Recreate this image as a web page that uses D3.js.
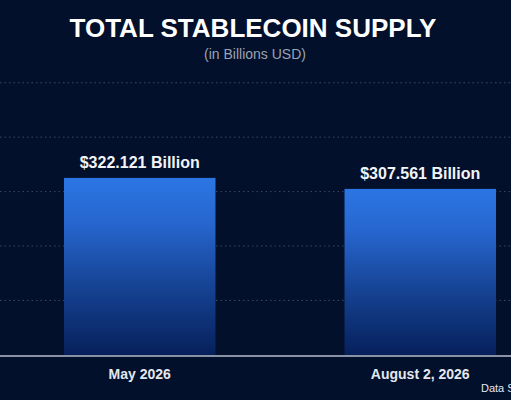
<!DOCTYPE html>
<html><head><meta charset="utf-8">
<script src="https://cdn.jsdelivr.net/npm/d3@7"></script>
<style>body{margin:0;background:#02102b;overflow:hidden}</style>
</head><body><svg id="c"></svg>
<script>
const categories = ['May 2026', 'August 2, 2026'];
const supply = [322.121, 307.561];
const gridValues = [160, 232, 304, 376, 448];

const W = 511, H = 400;
const svg = d3.select('#c').attr('width', W).attr('height', H);
svg.append('rect').attr('width', W).attr('height', H).attr('fill', '#02102b');

const defs = svg.append('defs');
const g = defs.append('linearGradient').attr('id', 'bar').attr('x1', 0).attr('y1', 0).attr('x2', 0).attr('y2', 1);
g.append('stop').attr('offset', '0%').attr('stop-color', '#2b76e3');
g.append('stop').attr('offset', '25%').attr('stop-color', '#2766cf');
g.append('stop').attr('offset', '60%').attr('stop-color', '#164495');
g.append('stop').attr('offset', '100%').attr('stop-color', '#061f5a');

const x = d3.scaleBand().domain(categories).range([64, 496]).paddingInner(0.46).paddingOuter(0);
const y = d3.scaleLinear().domain([86.5, 449]).range([356, 82]);

svg.selectAll('.grid').data(gridValues).enter().append('line')
  .attr('x1', 0).attr('x2', W).attr('y1', d => y(d)).attr('y2', d => y(d))
  .attr('stroke', '#3a4a66').attr('stroke-dasharray', '1.5,3').attr('stroke-width', 1);

svg.selectAll('.bar').data(supply).enter().append('rect')
  .attr('x', (d, i) => x(categories[i])).attr('width', x.bandwidth())
  .attr('y', d => y(d)).attr('height', d => y.range()[0] - y(d))
  .attr('fill', 'url(#bar)');

svg.append('line').attr('x1', 0).attr('x2', W).attr('y1', 356).attr('y2', 356)
  .attr('stroke', '#8a93a6').attr('stroke-width', 2);

svg.selectAll('.val').data(supply).enter().append('text')
  .attr('x', (d, i) => x(categories[i]) + x.bandwidth() / 2).attr('y', d => y(d) - 10)
  .attr('text-anchor', 'middle').attr('fill', '#f2f4f8')
  .style('font', 'bold 16px "Liberation Sans", Arial, sans-serif')
  .text(d => '$' + d3.format('.3f')(d) + ' Billion');

svg.selectAll('.cat').data(categories).enter().append('text')
  .attr('x', d => x(d) + x.bandwidth() / 2).attr('y', 379)
  .attr('text-anchor', 'middle').attr('fill', '#e4e7ee')
  .style('font', 'bold 14px "Liberation Sans", Arial, sans-serif')
  .text(d => d);

svg.append('text').attr('x', 253).attr('y', 37).attr('text-anchor', 'middle')
  .attr('fill', '#ffffff').style('font', 'bold 26px "Liberation Sans", Arial, sans-serif')
  .text('TOTAL STABLECOIN SUPPLY');
svg.append('text').attr('x', 255).attr('y', 59).attr('text-anchor', 'middle')
  .attr('fill', '#9aa3b5').style('font', '14px "Liberation Sans", Arial, sans-serif')
  .text('(in Billions USD)');
svg.append('text').attr('x', 481).attr('y', 392)
  .attr('fill', '#e4e7ee').style('font', '11px "Liberation Sans", Arial, sans-serif')
  .text('Data Source');
</script></body></html>
